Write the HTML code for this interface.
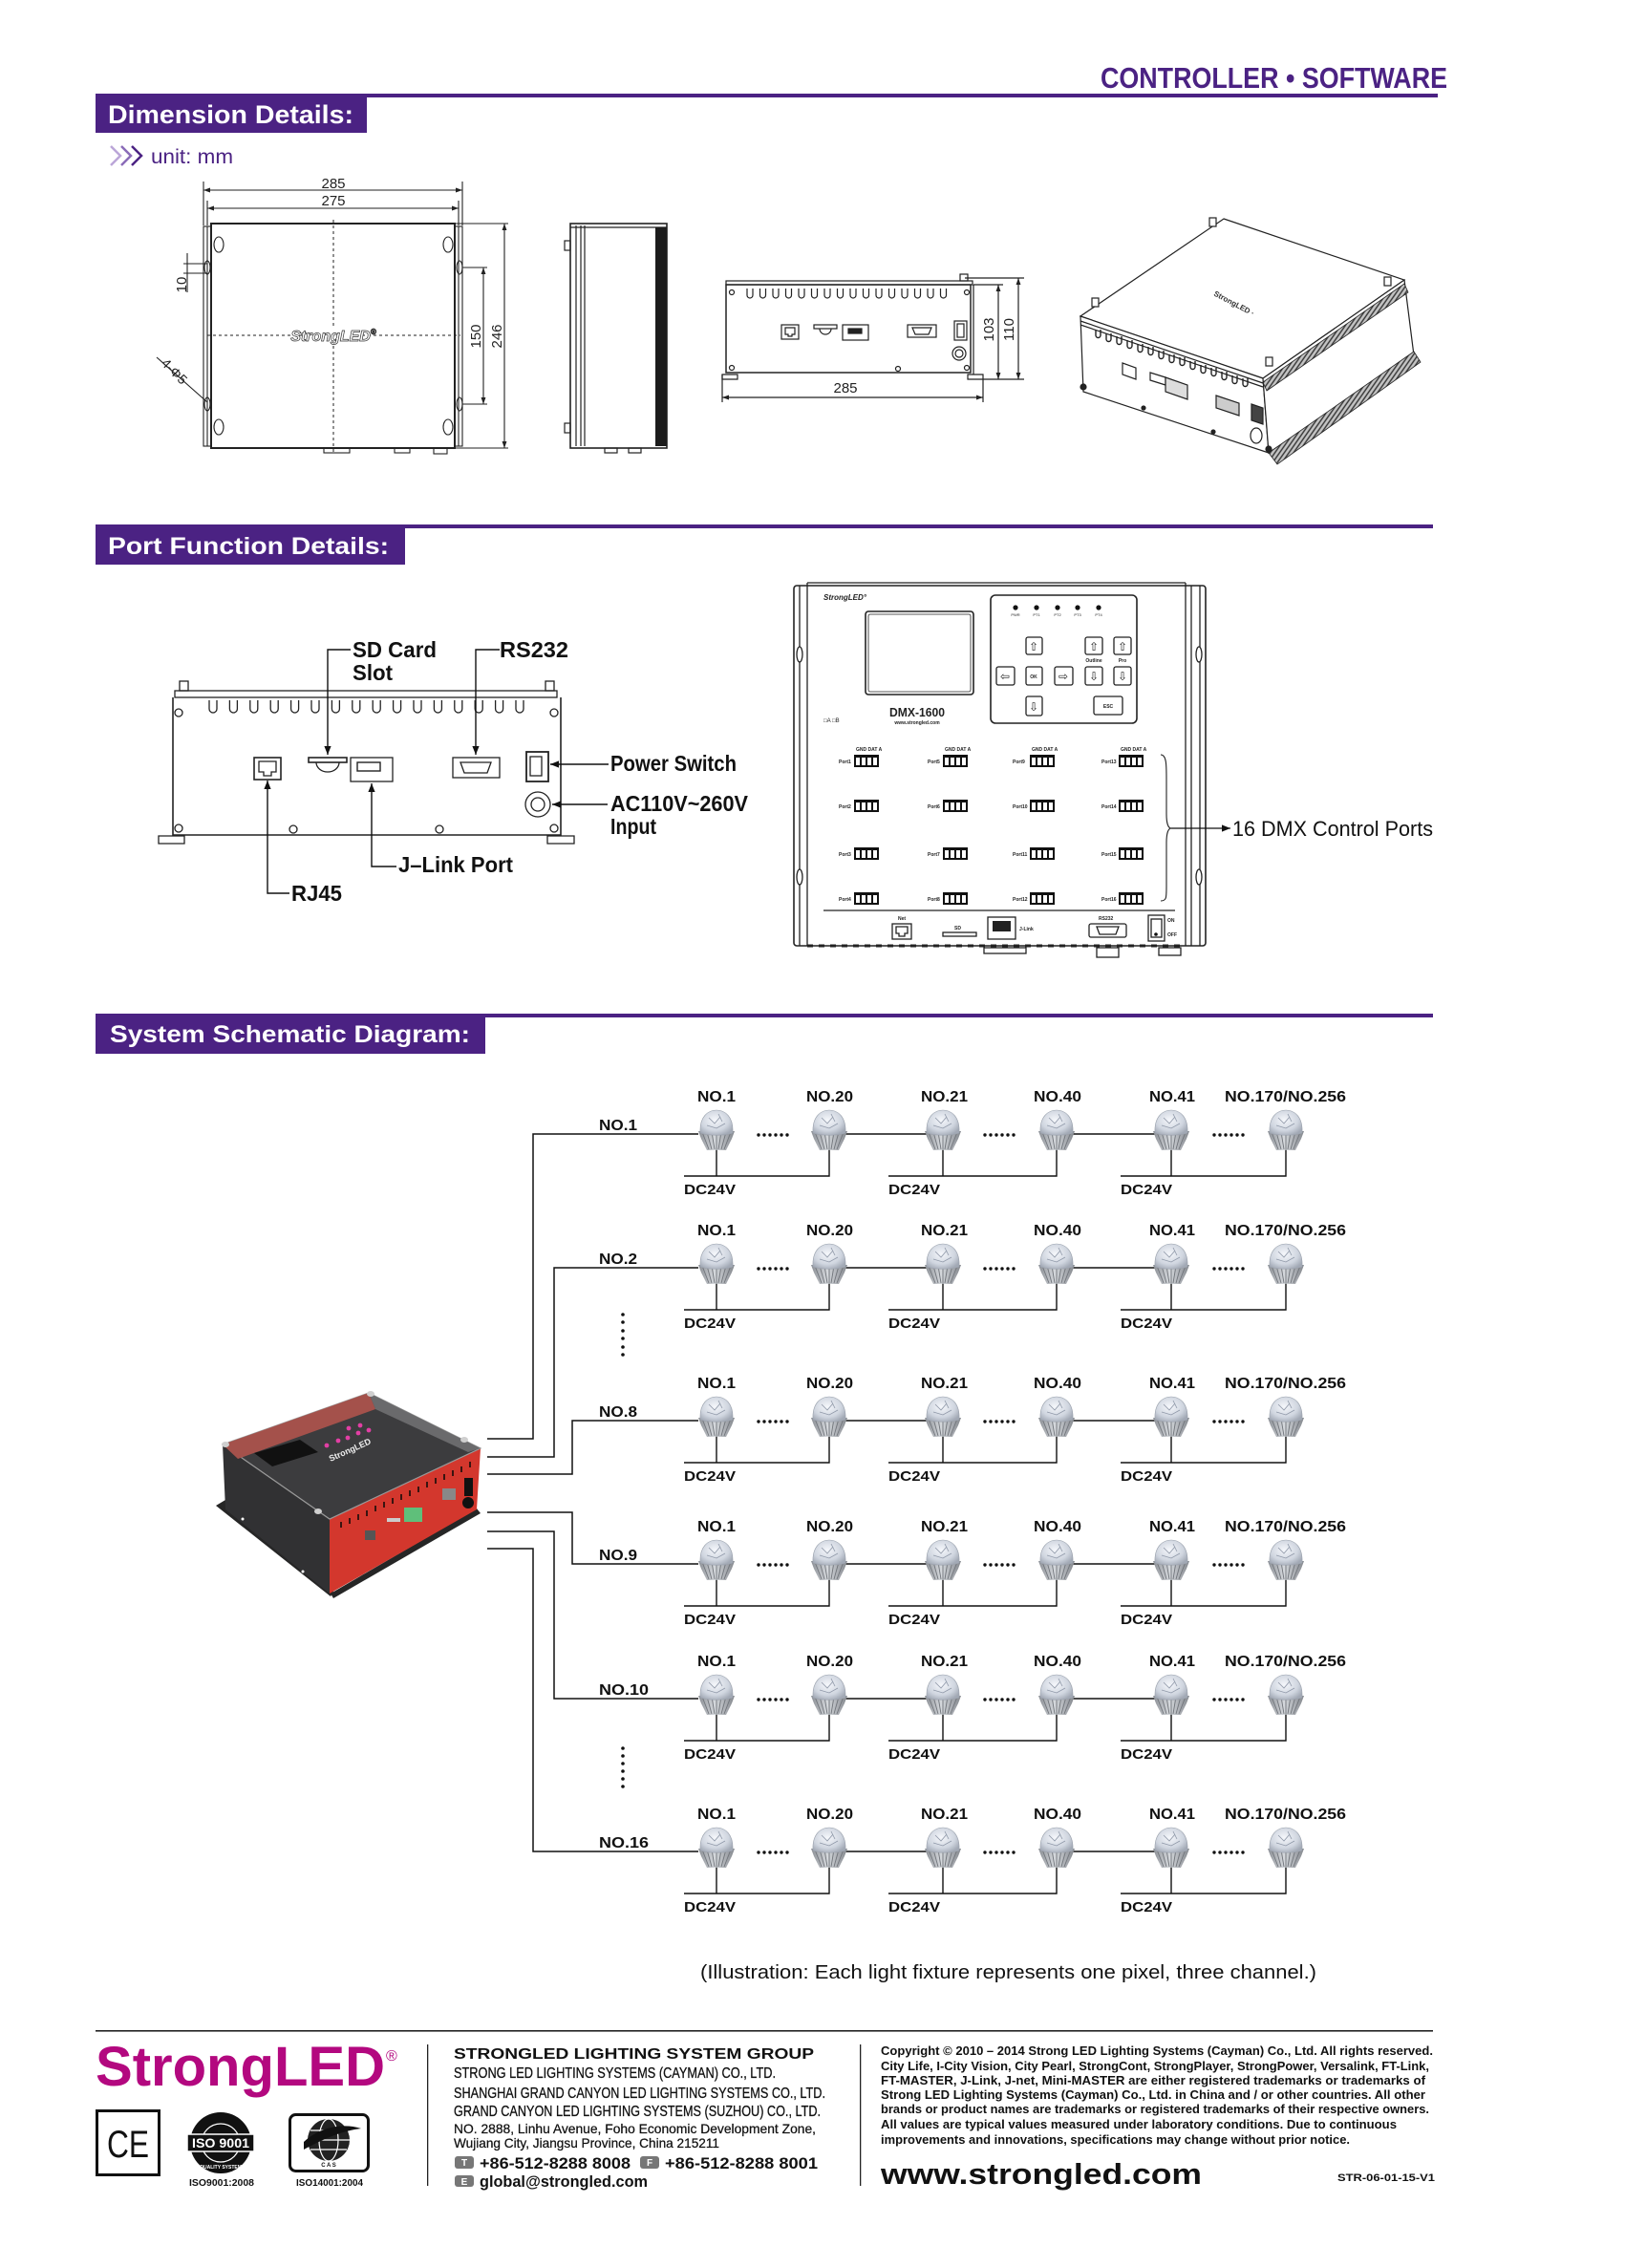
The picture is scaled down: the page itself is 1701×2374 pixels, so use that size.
<!DOCTYPE html>
<html><head><meta charset="utf-8">
<style>
html,body{margin:0;padding:0;background:#fff;}
svg{display:block;}
text{font-family:"Liberation Sans",Arial,sans-serif;}
</style></head>
<body>
<svg width="1701" height="2374" viewBox="0 0 1701 2374" xmlns="http://www.w3.org/2000/svg">
<defs>
 <marker id="a" viewBox="0 0 10 10" refX="10" refY="5" markerWidth="7" markerHeight="7" markerUnits="userSpaceOnUse" orient="auto-start-reverse"><path d="M0,1.5 L10,5 L0,8.5z" fill="#222"/></marker>
 <marker id="b" viewBox="0 0 10 10" refX="10" refY="5" markerWidth="9" markerHeight="9" markerUnits="userSpaceOnUse" orient="auto-start-reverse"><path d="M0,1 L10,5 L0,9z" fill="#111"/></marker>
 <pattern id="hatch" width="4" height="4" patternUnits="userSpaceOnUse" patternTransform="rotate(35)"><rect width="4" height="4" fill="#c4c4c4"/><line x1="1" y1="0" x2="1" y2="4" stroke="#333" stroke-width="1.4"/></pattern>
 <linearGradient id="fin" x1="0" y1="0" x2="1" y2="0"><stop offset="0" stop-color="#8a8e94"/><stop offset="0.45" stop-color="#d6d9dd"/><stop offset="1" stop-color="#83878d"/></linearGradient>
 <radialGradient id="dome" cx="0.45" cy="0.4" r="0.65"><stop offset="0" stop-color="#f5f7fb"/><stop offset="0.65" stop-color="#cfd5df"/><stop offset="1" stop-color="#a2a9b5"/></radialGradient>
 <g id="bulb">
  <path d="M-19,22 L19,22 L16,30 L10,42 L-10,42 L-16,30 Z" fill="url(#fin)"/>
  <path d="M-15,23 L-8,41 M-10,23 L-5,41 M-5,23 L-2,41 M0,23 V42 M5,23 L2,41 M10,23 L5,41 M15,23 L8,41" stroke="#71757b" stroke-width="0.9"/>
  <path d="M-17,24 C-18,7 -9,0 0,0 C9,0 18,7 17,24 C8,27 -8,27 -17,24 Z" fill="url(#dome)" stroke="#9aa1ac" stroke-width="0.6"/>
  <path d="M-8,8 L-2,14 L4,7 M-10,16 L0,19 L9,14 M2,4 L6,12" stroke="#8f98a8" stroke-width="0.8" fill="none"/>
 </g>
</defs>
<rect width="1701" height="2374" fill="#fff"/>

<!-- HEADER -->
<text x="1152" y="92" font-size="31" font-weight="bold" fill="#4b2283" textLength="363" lengthAdjust="spacingAndGlyphs">CONTROLLER • SOFTWARE</text>
<rect x="100" y="98" width="1405" height="4" fill="#4b2283"/>
<rect x="100" y="98" width="284" height="41" fill="#4b2283"/>
<text x="113" y="129" font-size="27" font-weight="bold" fill="#fff" textLength="257" lengthAdjust="spacingAndGlyphs">Dimension Details:</text>
<g fill="none" stroke-width="2.5">
 <polyline points="116,153 126,163 116,173" stroke="#bba6d8"/>
 <polyline points="127,153 137,163 127,173" stroke="#8a6bb8"/>
 <polyline points="138,153 148,163 138,173" stroke="#4b2283"/>
</g>
<text x="158" y="171" font-size="21" fill="#4b2283" textLength="86" lengthAdjust="spacingAndGlyphs">unit: mm</text>

<!-- DRAWING 1 -->
<g stroke="#222" fill="none" stroke-width="1.1">
 <line x1="213" y1="190" x2="213" y2="236"/><line x1="484" y1="190" x2="484" y2="236"/>
 <line x1="217" y1="210" x2="217" y2="236"/><line x1="480" y1="210" x2="480" y2="236"/>
 <line x1="213" y1="199" x2="484" y2="199" marker-start="url(#a)" marker-end="url(#a)"/>
 <line x1="217" y1="218" x2="480" y2="218" marker-start="url(#a)" marker-end="url(#a)"/>
 <rect x="213" y="237" width="8" height="230"/>
 <rect x="476" y="237" width="8" height="230"/>
 <line x1="217" y1="237" x2="217" y2="467"/><line x1="480" y1="237" x2="480" y2="467"/>
 <rect x="221" y="234" width="255" height="235" stroke-width="2"/>
 <ellipse cx="229" cy="256" rx="5" ry="8"/><ellipse cx="469" cy="256" rx="5" ry="8"/>
 <ellipse cx="229" cy="447" rx="5" ry="8"/><ellipse cx="469" cy="447" rx="5" ry="8"/>
 <ellipse cx="217" cy="280" rx="3" ry="7"/><ellipse cx="217" cy="423" rx="3" ry="7"/>
 <ellipse cx="481" cy="280" rx="3" ry="7"/><ellipse cx="481" cy="423" rx="3" ry="7"/>
 <rect x="339" y="469" width="27" height="5"/><rect x="413" y="469" width="16" height="5"/><rect x="454" y="469" width="14" height="6"/>
 <line x1="476" y1="234" x2="532" y2="234"/><line x1="476" y1="469" x2="532" y2="469"/>
 <line x1="528" y1="234" x2="528" y2="469" marker-start="url(#a)" marker-end="url(#a)"/>
 <line x1="484" y1="280" x2="510" y2="280"/><line x1="484" y1="423" x2="510" y2="423"/>
 <line x1="506" y1="280" x2="506" y2="423" marker-start="url(#a)" marker-end="url(#a)"/>
 <line x1="196" y1="265" x2="196" y2="306"/>
 <line x1="192" y1="276" x2="217" y2="276"/><line x1="192" y1="286" x2="217" y2="286"/>
 <line x1="164" y1="374" x2="217" y2="421"/>
 <line x1="349" y1="230" x2="349" y2="476" stroke-dasharray="3,3" stroke-width="1"/>
 <line x1="217" y1="351" x2="482" y2="351" stroke-dasharray="3,3" stroke-width="1"/>
</g>
<g font-size="15" fill="#222" text-anchor="middle">
 <text x="349" y="197">285</text><text x="349" y="215">275</text>
 <text transform="translate(503,352) rotate(-90)">150</text>
 <text transform="translate(525,352) rotate(-90)">246</text>
 <text transform="translate(195,298) rotate(-90)">10</text>
</g>
<text transform="translate(168,381) rotate(45)" font-size="14" fill="#222">4-Φ5</text>
<rect x="318" y="343" width="62" height="16" fill="#fff"/>
<text x="349" y="357" text-anchor="middle" font-size="16" font-style="italic" font-weight="bold" fill="#fff" stroke="#333" stroke-width="0.7">StrongLED<tspan font-size="8" dy="-7">®</tspan></text>

<!-- DRAWING 2 side -->
<g stroke="#222" fill="none" stroke-width="1.2">
 <rect x="597" y="234" width="101" height="235" stroke-width="1.6"/>
 <line x1="597" y1="238" x2="698" y2="238"/>
 <line x1="603" y1="236" x2="603" y2="467"/><line x1="608" y1="236" x2="608" y2="467"/><line x1="612" y1="236" x2="612" y2="467"/>
 <rect x="591" y="252" width="6" height="10"/><rect x="591" y="443" width="6" height="10"/>
 <rect x="633" y="469" width="13" height="5"/><rect x="658" y="469" width="13" height="5"/>
</g>
<rect x="686" y="238" width="12" height="229" fill="#1c1c1c"/>

<!-- DRAWING 3 front -->
<g stroke="#222" fill="none" stroke-width="1.2">
 <rect x="760" y="294" width="258" height="4"/>
 <rect x="1005" y="287" width="8" height="7"/>
 <rect x="760" y="298" width="256" height="92" stroke-width="1.5"/>
 <line x1="1019" y1="298" x2="1019" y2="392"/>
 <path d="M756,392 H772 V397 H756 Z M1013,392 H1029 V397 H1013 Z"/>
 <path d="M782,302 v7 a3,3 0 0 0 6,0 v-7 M795.5,302 v7 a3,3 0 0 0 6,0 v-7 M809,302 v7 a3,3 0 0 0 6,0 v-7 M822.5,302 v7 a3,3 0 0 0 6,0 v-7 M836,302 v7 a3,3 0 0 0 6,0 v-7 M849.5,302 v7 a3,3 0 0 0 6,0 v-7 M863,302 v7 a3,3 0 0 0 6,0 v-7 M876.5,302 v7 a3,3 0 0 0 6,0 v-7 M890,302 v7 a3,3 0 0 0 6,0 v-7 M903.5,302 v7 a3,3 0 0 0 6,0 v-7 M917,302 v7 a3,3 0 0 0 6,0 v-7 M930.5,302 v7 a3,3 0 0 0 6,0 v-7 M944,302 v7 a3,3 0 0 0 6,0 v-7 M957.5,302 v7 a3,3 0 0 0 6,0 v-7 M971,302 v7 a3,3 0 0 0 6,0 v-7 M984.5,302 v7 a3,3 0 0 0 6,0 v-7"/>
 <circle cx="766" cy="306" r="2.5"/><circle cx="1012" cy="306" r="2.5"/><circle cx="766" cy="385" r="2.5"/><circle cx="1012" cy="385" r="2.5"/><circle cx="940" cy="386" r="2.5"/>
 <rect x="818" y="340" width="18" height="15"/><path d="M822,343 h10 v7 h-3 v2 h-4 v-2 h-3z"/>
 <rect x="852" y="340" width="24" height="4"/><path d="M858,344 a6,6 0 0 0 12,0"/>
 <rect x="882" y="340" width="27" height="16"/><rect x="888" y="344" width="14" height="5" fill="#222"/>
 <rect x="950" y="340" width="30" height="13"/><path d="M955,343 h20 l-3,7 h-14z"/>
 <rect x="999" y="336" width="13" height="20"/><rect x="1002" y="339" width="7" height="14"/>
 <circle cx="1004" cy="370" r="7"/><circle cx="1004" cy="370" r="4"/>
 <line x1="1010" y1="291" x2="1072" y2="291"/><line x1="1019" y1="298" x2="1050" y2="298"/><line x1="1029" y1="397" x2="1072" y2="397"/>
 <line x1="1045" y1="298" x2="1045" y2="397" marker-start="url(#a)" marker-end="url(#a)"/>
 <line x1="1066" y1="291" x2="1066" y2="397" marker-start="url(#a)" marker-end="url(#a)"/>
 <line x1="756" y1="392" x2="756" y2="421"/><line x1="1029" y1="397" x2="1029" y2="421"/>
 <line x1="756" y1="416" x2="1029" y2="416" marker-start="url(#a)" marker-end="url(#a)"/>
</g>
<g font-size="15" fill="#222" text-anchor="middle">
 <text transform="translate(1040,345) rotate(-90)">103</text>
 <text transform="translate(1061,345) rotate(-90)">110</text>
 <text x="885" y="411">285</text>
</g>

<!-- DRAWING 4 iso -->
<g stroke="#222" fill="none" stroke-width="1.2">
 <polygon points="1281,229 1470,293 1322,396 1131,331" fill="#fff"/>
 <polygon points="1131,331 1322,396 1328,474 1134,410" fill="#fff"/>
 <polygon points="1470,293 1480,372 1328,474 1322,396" fill="#fff"/>
 <line x1="1131" y1="336" x2="1322" y2="401"/><line x1="1131" y1="340" x2="1322" y2="405"/>
 <polygon points="1470,297 1474,306 1326,409 1322,400" fill="url(#hatch)" stroke-width="0.8"/>
 <polygon points="1480,368 1487,379 1337,486 1328,474" fill="url(#hatch)" stroke-width="0.8"/>
 <path d="M1147,345 v6 a2.5,2.5 0 0 0 5,0 v-6 M1158,349 v6 a2.5,2.5 0 0 0 5,0 v-6 M1169,352 v6 a2.5,2.5 0 0 0 5,0 v-6 M1180,356 v6 a2.5,2.5 0 0 0 5,0 v-6 M1191,360 v6 a2.5,2.5 0 0 0 5,0 v-6 M1202,363 v6 a2.5,2.5 0 0 0 5,0 v-6 M1213,367 v6 a2.5,2.5 0 0 0 5,0 v-6 M1224,371 v6 a2.5,2.5 0 0 0 5,0 v-6 M1235,374 v6 a2.5,2.5 0 0 0 5,0 v-6 M1246,378 v6 a2.5,2.5 0 0 0 5,0 v-6 M1257,382 v6 a2.5,2.5 0 0 0 5,0 v-6 M1268,385 v6 a2.5,2.5 0 0 0 5,0 v-6 M1279,389 v6 a2.5,2.5 0 0 0 5,0 v-6 M1290,393 v6 a2.5,2.5 0 0 0 5,0 v-6 M1301,396 v6 a2.5,2.5 0 0 0 5,0 v-6" stroke-width="1.4"/>
 <polygon points="1175,380 1189,385 1189,397 1175,392"/>
 <polygon points="1204,390 1220,395 1220,403 1204,398"/>
 <polygon points="1220,395 1243,403 1243,418 1220,410" fill="#ddd"/>
 <polygon points="1273,414 1297,422 1297,435 1273,427" fill="#ccc"/>
 <polygon points="1310,423 1322,427 1322,444 1310,440" fill="#444"/>
 <ellipse cx="1315" cy="456" rx="6" ry="8"/>
 <circle cx="1197" cy="427" r="2" fill="#222"/><circle cx="1270" cy="452" r="2" fill="#222"/>
 <circle cx="1134" cy="405" r="3" fill="#222"/><circle cx="1328" cy="470" r="3" fill="#222"/>
 <rect x="1266" y="228" width="7" height="9" fill="#fff"/><rect x="1449" y="290" width="7" height="9" fill="#fff"/>
 <rect x="1143" y="312" width="7" height="9" fill="#fff"/><rect x="1325" y="374" width="7" height="9" fill="#fff"/>
</g>
<text transform="translate(1270,309) rotate(28)" font-size="8" font-weight="bold" fill="#333">StrongLED ·</text>

<!-- SECTION 2 -->
<rect x="100" y="549" width="1400" height="4" fill="#4b2283"/>
<rect x="100" y="549" width="324" height="42" fill="#4b2283"/>
<text x="113" y="580" font-size="25" font-weight="bold" fill="#fff" textLength="294" lengthAdjust="spacingAndGlyphs">Port Function Details:</text>

<!-- rear view -->
<g stroke="#222" fill="none" stroke-width="1.3">
 <rect x="183" y="723" width="400" height="7"/>
 <rect x="188" y="713" width="9" height="10"/><rect x="571" y="713" width="9" height="10"/>
 <path d="M181,730 V874 H587 V730" stroke-width="1.6"/>
 <path d="M166,875 H193 V883 H166 Z M573,875 H601 V883 H573 Z"/>
 <path d="M219,733 v9 a4,4 0 0 0 8,0 v-9 M240.4,733 v9 a4,4 0 0 0 8,0 v-9 M261.8,733 v9 a4,4 0 0 0 8,0 v-9 M283.2,733 v9 a4,4 0 0 0 8,0 v-9 M304.6,733 v9 a4,4 0 0 0 8,0 v-9 M326,733 v9 a4,4 0 0 0 8,0 v-9 M347.4,733 v9 a4,4 0 0 0 8,0 v-9 M368.8,733 v9 a4,4 0 0 0 8,0 v-9 M390.2,733 v9 a4,4 0 0 0 8,0 v-9 M411.6,733 v9 a4,4 0 0 0 8,0 v-9 M433,733 v9 a4,4 0 0 0 8,0 v-9 M454.4,733 v9 a4,4 0 0 0 8,0 v-9 M475.8,733 v9 a4,4 0 0 0 8,0 v-9 M497.2,733 v9 a4,4 0 0 0 8,0 v-9 M518.6,733 v9 a4,4 0 0 0 8,0 v-9 M540,733 v9 a4,4 0 0 0 8,0 v-9"/>
 <circle cx="187" cy="746" r="4"/><circle cx="580" cy="746" r="4"/><circle cx="187" cy="867" r="4"/><circle cx="580" cy="867" r="4"/><circle cx="307" cy="868" r="4"/><circle cx="460" cy="868" r="4"/>
 <rect x="266" y="793" width="28" height="23" stroke-width="1.6"/><path d="M271,797 h18 v11 h-5 v4 h-8 v-4 h-5 z"/>
 <rect x="323" y="793" width="40" height="5" stroke-width="1.6"/><path d="M331,798 a12,10 0 0 0 24,0"/>
 <rect x="367" y="793" width="44" height="25"/><rect x="374" y="798" width="24" height="9" stroke-width="1.4"/>
 <rect x="474" y="793" width="49" height="21"/><path d="M482,798 h32 l-4,11 h-24 z"/>
 <rect x="551" y="787" width="23" height="31" stroke-width="1.8"/><rect x="555" y="792" width="12" height="20"/>
 <circle cx="563" cy="842" r="13"/><circle cx="563" cy="842" r="7"/>
</g>
<g stroke="#111" fill="none" stroke-width="1.4">
 <path d="M367,680 H343 V790" marker-end="url(#b)"/>
 <path d="M523,680 H498 V790" marker-end="url(#b)"/>
 <path d="M637,800 H576" marker-end="url(#b)"/>
 <path d="M636,842 H578" marker-end="url(#b)"/>
 <path d="M415,907 H389 V820" marker-end="url(#b)"/>
 <path d="M303,935 H280 V817" marker-end="url(#b)"/>
</g>
<g font-size="23" font-weight="bold" fill="#111">
 <text x="369" y="688" textLength="88" lengthAdjust="spacingAndGlyphs">SD Card</text>
 <text x="369" y="712" textLength="42" lengthAdjust="spacingAndGlyphs">Slot</text>
 <text x="523" y="688" textLength="72" lengthAdjust="spacingAndGlyphs">RS232</text>
 <text x="639" y="807" textLength="132" lengthAdjust="spacingAndGlyphs">Power Switch</text>
 <text x="639" y="849" textLength="144" lengthAdjust="spacingAndGlyphs">AC110V~260V</text>
 <text x="639" y="873" textLength="48" lengthAdjust="spacingAndGlyphs">Input</text>
 <text x="417" y="913" textLength="120" lengthAdjust="spacingAndGlyphs">J–Link Port</text>
 <text x="305" y="943" textLength="53" lengthAdjust="spacingAndGlyphs">RJ45</text>
</g>

<!-- front panel -->
<g stroke="#222" fill="none" stroke-width="1.3">
 <rect x="831" y="613" width="431" height="377" rx="3" stroke-width="1.6"/>
 <line x1="837" y1="613" x2="837" y2="990"/><line x1="845" y1="610" x2="845" y2="990"/>
 <line x1="1241" y1="610" x2="1241" y2="990"/><line x1="1247" y1="613" x2="1247" y2="990"/><line x1="1256" y1="613" x2="1256" y2="990"/>
 <line x1="845" y1="610" x2="1241" y2="610"/>
 <ellipse cx="837" cy="685" rx="3" ry="8" fill="#fff"/><ellipse cx="837" cy="918" rx="3" ry="8" fill="#fff"/>
 <ellipse cx="1255" cy="685" rx="3" ry="8" fill="#fff"/><ellipse cx="1255" cy="918" rx="3" ry="8" fill="#fff"/>
 <rect x="906" y="640" width="113" height="87" rx="3" stroke-width="1.6"/>
 <rect x="909" y="643" width="107" height="81" rx="2" stroke-width="0.8"/>
 <rect x="1037" y="623" width="153" height="134" rx="5" stroke-width="1.6"/>
 <rect x="1074" y="667" width="17" height="18" rx="2"/><rect x="1136" y="667" width="18" height="18" rx="2"/><rect x="1166" y="667" width="18" height="18" rx="2"/>
 <rect x="1043" y="698" width="19" height="19" rx="2"/><rect x="1074" y="698" width="17" height="19" rx="2"/><rect x="1104" y="698" width="19" height="19" rx="2"/><rect x="1136" y="698" width="18" height="19" rx="2"/><rect x="1166" y="698" width="18" height="19" rx="2"/>
 <rect x="1074" y="729" width="17" height="20" rx="2"/><rect x="1145" y="729" width="30" height="19" rx="2"/>
 <line x1="862" y1="953" x2="1230" y2="953"/>
 <rect x="934" y="967" width="20" height="16"/><path d="M938,970 h12 v7 h-3 v3 h-6 v-3 h-3z"/>
 <rect x="987" y="976" width="35" height="4"/>
 <rect x="1034" y="960" width="29" height="23"/>
 <rect x="1140" y="967" width="39" height="14" rx="2"/><path d="M1148,970 h23 l-3,8 h-17z"/>
 <rect x="1202" y="958" width="17" height="27"/><rect x="1205" y="962" width="11" height="19"/>
 <rect x="1030" y="992" width="44" height="6"/><rect x="1148" y="992" width="23" height="10"/><rect x="1213" y="992" width="23" height="8"/>
 <line x1="845" y1="990" x2="1241" y2="990" stroke-dasharray="6,6" stroke-width="3"/>
 <path d="M1215,790 C1221,790 1221,800 1221,815 L1221,852 C1221,862 1223,867 1226,867 C1223,867 1221,872 1221,882 L1221,928 C1221,940 1221,943 1215,943" stroke-width="1.1"/>
</g>
<rect x="1039" y="964" width="19" height="11" fill="#222"/>
<g fill="#111">
 <circle cx="1063" cy="636" r="2.6"/><circle cx="1085" cy="636" r="2.6"/><circle cx="1107" cy="636" r="2.6"/><circle cx="1128" cy="636" r="2.6"/><circle cx="1150" cy="636" r="2.6"/>
 <circle cx="1210" cy="978" r="1.8"/>
</g>
<g font-size="4" fill="#222" text-anchor="middle"><text x="1063" y="645">PWR</text><text x="1085" y="645">PT1</text><text x="1107" y="645">PT2</text><text x="1128" y="645">PT3</text><text x="1150" y="645">PT4</text></g>
<g font-family="'DejaVu Sans',sans-serif" font-size="12" fill="#222" text-anchor="middle">
 <text x="1082" y="681">⇧</text><text x="1145" y="681">⇧</text><text x="1175" y="681">⇧</text>
 <text x="1052" y="712">⇦</text><text x="1113" y="712">⇨</text><text x="1145" y="712">⇩</text><text x="1175" y="712">⇩</text>
 <text x="1082" y="744">⇩</text>
</g>
<g font-size="5" font-weight="bold" fill="#222" text-anchor="middle">
 <text x="1082" y="710">OK</text><text x="1160" y="741">ESC</text><text x="1145" y="693">Outline</text><text x="1175" y="693">Pro</text>
</g>
<text x="862" y="628" font-size="8" font-weight="bold" font-style="italic" fill="#222">StrongLED°</text>
<text x="931" y="750" font-size="13" font-weight="bold" fill="#222" textLength="58" lengthAdjust="spacingAndGlyphs">DMX-1600</text>
<text x="960" y="758" font-size="5" font-weight="bold" fill="#222" text-anchor="middle">www.strongled.com</text>
<text x="862" y="756" font-size="6" fill="#222">□A □B</text>
<g fill="#111">
 <rect x="894" y="790" width="26" height="13"/><rect x="894" y="837" width="26" height="13"/><rect x="894" y="887" width="26" height="13"/><rect x="894" y="934" width="26" height="13"/>
 <rect x="987" y="790" width="26" height="13"/><rect x="987" y="837" width="26" height="13"/><rect x="987" y="887" width="26" height="13"/><rect x="987" y="934" width="26" height="13"/>
 <rect x="1078" y="790" width="26" height="13"/><rect x="1078" y="837" width="26" height="13"/><rect x="1078" y="887" width="26" height="13"/><rect x="1078" y="934" width="26" height="13"/>
 <rect x="1171" y="790" width="26" height="13"/><rect x="1171" y="837" width="26" height="13"/><rect x="1171" y="887" width="26" height="13"/><rect x="1171" y="934" width="26" height="13"/>
</g>
<g fill="#fff">
 <path d="M896,793h4v8h-4z M902,793h4v8h-4z M908,793h4v8h-4z M914,793h4v8h-4z M896,840h4v8h-4z M902,840h4v8h-4z M908,840h4v8h-4z M914,840h4v8h-4z M896,890h4v8h-4z M902,890h4v8h-4z M908,890h4v8h-4z M914,890h4v8h-4z M896,937h4v8h-4z M902,937h4v8h-4z M908,937h4v8h-4z M914,937h4v8h-4z"/>
 <path d="M989,793h4v8h-4z M995,793h4v8h-4z M1001,793h4v8h-4z M1007,793h4v8h-4z M989,840h4v8h-4z M995,840h4v8h-4z M1001,840h4v8h-4z M1007,840h4v8h-4z M989,890h4v8h-4z M995,890h4v8h-4z M1001,890h4v8h-4z M1007,890h4v8h-4z M989,937h4v8h-4z M995,937h4v8h-4z M1001,937h4v8h-4z M1007,937h4v8h-4z"/>
 <path d="M1080,793h4v8h-4z M1086,793h4v8h-4z M1092,793h4v8h-4z M1098,793h4v8h-4z M1080,840h4v8h-4z M1086,840h4v8h-4z M1092,840h4v8h-4z M1098,840h4v8h-4z M1080,890h4v8h-4z M1086,890h4v8h-4z M1092,890h4v8h-4z M1098,890h4v8h-4z M1080,937h4v8h-4z M1086,937h4v8h-4z M1092,937h4v8h-4z M1098,937h4v8h-4z"/>
 <path d="M1173,793h4v8h-4z M1179,793h4v8h-4z M1185,793h4v8h-4z M1191,793h4v8h-4z M1173,840h4v8h-4z M1179,840h4v8h-4z M1185,840h4v8h-4z M1191,840h4v8h-4z M1173,890h4v8h-4z M1179,890h4v8h-4z M1185,890h4v8h-4z M1191,890h4v8h-4z M1173,937h4v8h-4z M1179,937h4v8h-4z M1185,937h4v8h-4z M1191,937h4v8h-4z"/>
</g>
<g font-size="5" font-weight="bold" fill="#222">
 <text x="878" y="799">Port1</text><text x="878" y="846">Port2</text><text x="878" y="896">Port3</text><text x="878" y="943">Port4</text>
 <text x="971" y="799">Port5</text><text x="971" y="846">Port6</text><text x="971" y="896">Port7</text><text x="971" y="943">Port8</text>
 <text x="1060" y="799">Port9</text><text x="1060" y="846">Port10</text><text x="1060" y="896">Port11</text><text x="1060" y="943">Port12</text>
 <text x="1153" y="799">Port13</text><text x="1153" y="846">Port14</text><text x="1153" y="896">Port15</text><text x="1153" y="943">Port16</text>
 <text x="896" y="786">GND DAT A</text><text x="989" y="786">GND DAT A</text><text x="1080" y="786">GND DAT A</text><text x="1173" y="786">GND DAT A</text>
 <text x="940" y="963">Net</text><text x="999" y="973">SD</text><text x="1067" y="974">J-Link</text><text x="1150" y="963">RS232</text><text x="1222" y="965">ON</text><text x="1222" y="980">OFF</text>
</g>
<line x1="1226" y1="867" x2="1288" y2="867" stroke="#111" stroke-width="1.3" marker-end="url(#b)"/>
<text x="1290" y="875" font-size="22" fill="#111" textLength="210" lengthAdjust="spacingAndGlyphs">16 DMX Control Ports</text>

<!-- SECTION 3 -->
<rect x="100" y="1061" width="1400" height="4" fill="#4b2283"/>
<rect x="100" y="1061" width="408" height="42" fill="#4b2283"/>
<text x="115" y="1091" font-size="25" font-weight="bold" fill="#fff" textLength="377" lengthAdjust="spacingAndGlyphs">System Schematic Diagram:</text>

<!-- controller photo -->
<polygon points="226,1576 236,1570 352,1661 346,1671" fill="#262626"/>
<polygon points="346,1668 499,1579 503,1584 349,1673" fill="#262626"/>
<polygon points="233,1512 345,1590 345,1668 236,1580" fill="#313133"/>
<polygon points="345,1590 503,1516 499,1580 345,1668" fill="#d3372d"/>
<polygon points="233,1512 386,1458 503,1516 345,1590" fill="#3c3c3e" stroke="#9a9a9a" stroke-width="1.2"/>
<polygon points="233,1512 386,1458 393,1475 249,1527" fill="#a4514b"/>
<polygon points="386,1458 503,1516 490,1520 393,1475" fill="#6a6a6c"/>
<polygon points="266,1521 314,1507 333,1520 285,1535" fill="#111"/>
<g fill="#e23fa4"><circle cx="342" cy="1513" r="2.4"/><circle cx="354" cy="1508" r="2.4"/><circle cx="364" cy="1505" r="2.4"/><circle cx="365" cy="1495" r="2.4"/><circle cx="375" cy="1500" r="2.4"/><circle cx="377" cy="1492" r="2.4"/><circle cx="386" cy="1497" r="2.4"/></g>
<text transform="translate(346,1530) rotate(-24)" font-size="9" font-weight="bold" fill="#eee">StrongLED</text>
<g fill="#3a1410">
 <rect x="356" y="1593" width="2" height="6"/><rect x="365" y="1589" width="2" height="6"/><rect x="374" y="1585" width="2" height="6"/><rect x="383" y="1581" width="2" height="6"/><rect x="392" y="1576" width="2" height="6"/><rect x="401" y="1572" width="2" height="6"/><rect x="410" y="1568" width="2" height="6"/><rect x="419" y="1564" width="2" height="6"/><rect x="428" y="1560" width="2" height="6"/><rect x="437" y="1556" width="2" height="6"/><rect x="446" y="1551" width="2" height="6"/><rect x="455" y="1547" width="2" height="6"/><rect x="464" y="1543" width="2" height="6"/><rect x="473" y="1539" width="2" height="6"/><rect x="482" y="1535" width="2" height="6"/><rect x="491" y="1530" width="2" height="6"/>
</g>
<rect x="382" y="1602" width="11" height="10" fill="#555"/>
<rect x="405" y="1589" width="14" height="4" fill="#ccc"/>
<rect x="423" y="1578" width="19" height="15" fill="#5fbf7a"/>
<rect x="463" y="1558" width="14" height="12" fill="#888"/>
<rect x="486" y="1547" width="9" height="19" fill="#111"/>
<circle cx="490" cy="1573" r="6" fill="#111"/>
<g fill="#cfcfcf"><ellipse cx="388" cy="1459" rx="4" ry="3"/><ellipse cx="486" cy="1507" rx="4" ry="3"/><ellipse cx="333" cy="1582" rx="4" ry="3"/><ellipse cx="236" cy="1512" rx="4" ry="3"/></g>
<g fill="#fff"><circle cx="254" cy="1590" r="1.5"/><circle cx="317" cy="1645" r="1.5"/></g>

<!-- trunk lines -->
<g stroke="#111" stroke-width="1.5" fill="none">
 <path d="M510,1506 H558 V1187 H731"/>
 <path d="M510,1525 H580 V1327 H731"/>
 <path d="M510,1543 H599 V1487 H731"/>
 <path d="M510,1583 H599 V1637 H731"/>
 <path d="M510,1603 H580 V1778 H731"/>
 <path d="M510,1621 H558 V1938 H731"/>
</g>
<g font-size="16" font-weight="bold" fill="#111">
 <text x="627" y="1183" textLength="40" lengthAdjust="spacingAndGlyphs">NO.1</text>
 <text x="627" y="1323" textLength="40" lengthAdjust="spacingAndGlyphs">NO.2</text>
 <text x="627" y="1483" textLength="40" lengthAdjust="spacingAndGlyphs">NO.8</text>
 <text x="627" y="1633" textLength="40" lengthAdjust="spacingAndGlyphs">NO.9</text>
 <text x="627" y="1774" textLength="52" lengthAdjust="spacingAndGlyphs">NO.10</text>
 <text x="627" y="1934" textLength="52" lengthAdjust="spacingAndGlyphs">NO.16</text>
</g>
<g fill="#111">
 <circle cx="652" cy="1376" r="1.8"/><circle cx="652" cy="1384" r="1.8"/><circle cx="652" cy="1393" r="1.8"/><circle cx="652" cy="1401" r="1.8"/><circle cx="652" cy="1410" r="1.8"/><circle cx="652" cy="1418" r="1.8"/>
 <circle cx="652" cy="1830" r="1.8"/><circle cx="652" cy="1838" r="1.8"/><circle cx="652" cy="1846" r="1.8"/><circle cx="652" cy="1854" r="1.8"/><circle cx="652" cy="1862" r="1.8"/><circle cx="652" cy="1870" r="1.8"/>
</g>

<!-- ROW 1 -->
<g transform="translate(0,1147)">
 <g font-size="16" font-weight="bold" fill="#111">
  <text x="730" y="6" textLength="40" lengthAdjust="spacingAndGlyphs">NO.1</text><text x="844" y="6" textLength="49" lengthAdjust="spacingAndGlyphs">NO.20</text><text x="964" y="6" textLength="49" lengthAdjust="spacingAndGlyphs">NO.21</text><text x="1082" y="6" textLength="50" lengthAdjust="spacingAndGlyphs">NO.40</text><text x="1203" y="6" textLength="48" lengthAdjust="spacingAndGlyphs">NO.41</text><text x="1282" y="6" textLength="127" lengthAdjust="spacingAndGlyphs">NO.170/NO.256</text>
 </g>
 <path d="M885,40 H970 M1123,40 H1209 M750,57 V84 M716,84 H868 V57 M987,57 V84 M930,84 H1106 V57 M1226,57 V84 M1173,84 H1346 V57" stroke="#111" stroke-width="1.4" fill="none"/>
 <use href="#bulb" x="750" y="15"/><use href="#bulb" x="868" y="15"/><use href="#bulb" x="987" y="15"/><use href="#bulb" x="1106" y="15"/><use href="#bulb" x="1226" y="15"/><use href="#bulb" x="1346" y="15"/>
 <g fill="#111"><circle cx="794" cy="41" r="1.7"/><circle cx="800" cy="41" r="1.7"/><circle cx="806" cy="41" r="1.7"/><circle cx="812" cy="41" r="1.7"/><circle cx="818" cy="41" r="1.7"/><circle cx="824" cy="41" r="1.7"/><circle cx="1031" cy="41" r="1.7"/><circle cx="1037" cy="41" r="1.7"/><circle cx="1043" cy="41" r="1.7"/><circle cx="1049" cy="41" r="1.7"/><circle cx="1055" cy="41" r="1.7"/><circle cx="1061" cy="41" r="1.7"/><circle cx="1271" cy="41" r="1.7"/><circle cx="1277" cy="41" r="1.7"/><circle cx="1283" cy="41" r="1.7"/><circle cx="1289" cy="41" r="1.7"/><circle cx="1295" cy="41" r="1.7"/><circle cx="1301" cy="41" r="1.7"/></g>
 <g font-size="15" font-weight="bold" fill="#111"><text x="716" y="103" textLength="54" lengthAdjust="spacingAndGlyphs">DC24V</text><text x="930" y="103" textLength="54" lengthAdjust="spacingAndGlyphs">DC24V</text><text x="1173" y="103" textLength="54" lengthAdjust="spacingAndGlyphs">DC24V</text></g>
</g>
<!-- ROW 2 -->
<g transform="translate(0,1287)">
 <g font-size="16" font-weight="bold" fill="#111">
  <text x="730" y="6" textLength="40" lengthAdjust="spacingAndGlyphs">NO.1</text><text x="844" y="6" textLength="49" lengthAdjust="spacingAndGlyphs">NO.20</text><text x="964" y="6" textLength="49" lengthAdjust="spacingAndGlyphs">NO.21</text><text x="1082" y="6" textLength="50" lengthAdjust="spacingAndGlyphs">NO.40</text><text x="1203" y="6" textLength="48" lengthAdjust="spacingAndGlyphs">NO.41</text><text x="1282" y="6" textLength="127" lengthAdjust="spacingAndGlyphs">NO.170/NO.256</text>
 </g>
 <path d="M885,40 H970 M1123,40 H1209 M750,57 V84 M716,84 H868 V57 M987,57 V84 M930,84 H1106 V57 M1226,57 V84 M1173,84 H1346 V57" stroke="#111" stroke-width="1.4" fill="none"/>
 <use href="#bulb" x="750" y="15"/><use href="#bulb" x="868" y="15"/><use href="#bulb" x="987" y="15"/><use href="#bulb" x="1106" y="15"/><use href="#bulb" x="1226" y="15"/><use href="#bulb" x="1346" y="15"/>
 <g fill="#111"><circle cx="794" cy="41" r="1.7"/><circle cx="800" cy="41" r="1.7"/><circle cx="806" cy="41" r="1.7"/><circle cx="812" cy="41" r="1.7"/><circle cx="818" cy="41" r="1.7"/><circle cx="824" cy="41" r="1.7"/><circle cx="1031" cy="41" r="1.7"/><circle cx="1037" cy="41" r="1.7"/><circle cx="1043" cy="41" r="1.7"/><circle cx="1049" cy="41" r="1.7"/><circle cx="1055" cy="41" r="1.7"/><circle cx="1061" cy="41" r="1.7"/><circle cx="1271" cy="41" r="1.7"/><circle cx="1277" cy="41" r="1.7"/><circle cx="1283" cy="41" r="1.7"/><circle cx="1289" cy="41" r="1.7"/><circle cx="1295" cy="41" r="1.7"/><circle cx="1301" cy="41" r="1.7"/></g>
 <g font-size="15" font-weight="bold" fill="#111"><text x="716" y="103" textLength="54" lengthAdjust="spacingAndGlyphs">DC24V</text><text x="930" y="103" textLength="54" lengthAdjust="spacingAndGlyphs">DC24V</text><text x="1173" y="103" textLength="54" lengthAdjust="spacingAndGlyphs">DC24V</text></g>
</g>
<!-- ROW 3 -->
<g transform="translate(0,1447)">
 <g font-size="16" font-weight="bold" fill="#111">
  <text x="730" y="6" textLength="40" lengthAdjust="spacingAndGlyphs">NO.1</text><text x="844" y="6" textLength="49" lengthAdjust="spacingAndGlyphs">NO.20</text><text x="964" y="6" textLength="49" lengthAdjust="spacingAndGlyphs">NO.21</text><text x="1082" y="6" textLength="50" lengthAdjust="spacingAndGlyphs">NO.40</text><text x="1203" y="6" textLength="48" lengthAdjust="spacingAndGlyphs">NO.41</text><text x="1282" y="6" textLength="127" lengthAdjust="spacingAndGlyphs">NO.170/NO.256</text>
 </g>
 <path d="M885,40 H970 M1123,40 H1209 M750,57 V84 M716,84 H868 V57 M987,57 V84 M930,84 H1106 V57 M1226,57 V84 M1173,84 H1346 V57" stroke="#111" stroke-width="1.4" fill="none"/>
 <use href="#bulb" x="750" y="15"/><use href="#bulb" x="868" y="15"/><use href="#bulb" x="987" y="15"/><use href="#bulb" x="1106" y="15"/><use href="#bulb" x="1226" y="15"/><use href="#bulb" x="1346" y="15"/>
 <g fill="#111"><circle cx="794" cy="41" r="1.7"/><circle cx="800" cy="41" r="1.7"/><circle cx="806" cy="41" r="1.7"/><circle cx="812" cy="41" r="1.7"/><circle cx="818" cy="41" r="1.7"/><circle cx="824" cy="41" r="1.7"/><circle cx="1031" cy="41" r="1.7"/><circle cx="1037" cy="41" r="1.7"/><circle cx="1043" cy="41" r="1.7"/><circle cx="1049" cy="41" r="1.7"/><circle cx="1055" cy="41" r="1.7"/><circle cx="1061" cy="41" r="1.7"/><circle cx="1271" cy="41" r="1.7"/><circle cx="1277" cy="41" r="1.7"/><circle cx="1283" cy="41" r="1.7"/><circle cx="1289" cy="41" r="1.7"/><circle cx="1295" cy="41" r="1.7"/><circle cx="1301" cy="41" r="1.7"/></g>
 <g font-size="15" font-weight="bold" fill="#111"><text x="716" y="103" textLength="54" lengthAdjust="spacingAndGlyphs">DC24V</text><text x="930" y="103" textLength="54" lengthAdjust="spacingAndGlyphs">DC24V</text><text x="1173" y="103" textLength="54" lengthAdjust="spacingAndGlyphs">DC24V</text></g>
</g>
<!-- ROW 4 -->
<g transform="translate(0,1597)">
 <g font-size="16" font-weight="bold" fill="#111">
  <text x="730" y="6" textLength="40" lengthAdjust="spacingAndGlyphs">NO.1</text><text x="844" y="6" textLength="49" lengthAdjust="spacingAndGlyphs">NO.20</text><text x="964" y="6" textLength="49" lengthAdjust="spacingAndGlyphs">NO.21</text><text x="1082" y="6" textLength="50" lengthAdjust="spacingAndGlyphs">NO.40</text><text x="1203" y="6" textLength="48" lengthAdjust="spacingAndGlyphs">NO.41</text><text x="1282" y="6" textLength="127" lengthAdjust="spacingAndGlyphs">NO.170/NO.256</text>
 </g>
 <path d="M885,40 H970 M1123,40 H1209 M750,57 V84 M716,84 H868 V57 M987,57 V84 M930,84 H1106 V57 M1226,57 V84 M1173,84 H1346 V57" stroke="#111" stroke-width="1.4" fill="none"/>
 <use href="#bulb" x="750" y="15"/><use href="#bulb" x="868" y="15"/><use href="#bulb" x="987" y="15"/><use href="#bulb" x="1106" y="15"/><use href="#bulb" x="1226" y="15"/><use href="#bulb" x="1346" y="15"/>
 <g fill="#111"><circle cx="794" cy="41" r="1.7"/><circle cx="800" cy="41" r="1.7"/><circle cx="806" cy="41" r="1.7"/><circle cx="812" cy="41" r="1.7"/><circle cx="818" cy="41" r="1.7"/><circle cx="824" cy="41" r="1.7"/><circle cx="1031" cy="41" r="1.7"/><circle cx="1037" cy="41" r="1.7"/><circle cx="1043" cy="41" r="1.7"/><circle cx="1049" cy="41" r="1.7"/><circle cx="1055" cy="41" r="1.7"/><circle cx="1061" cy="41" r="1.7"/><circle cx="1271" cy="41" r="1.7"/><circle cx="1277" cy="41" r="1.7"/><circle cx="1283" cy="41" r="1.7"/><circle cx="1289" cy="41" r="1.7"/><circle cx="1295" cy="41" r="1.7"/><circle cx="1301" cy="41" r="1.7"/></g>
 <g font-size="15" font-weight="bold" fill="#111"><text x="716" y="103" textLength="54" lengthAdjust="spacingAndGlyphs">DC24V</text><text x="930" y="103" textLength="54" lengthAdjust="spacingAndGlyphs">DC24V</text><text x="1173" y="103" textLength="54" lengthAdjust="spacingAndGlyphs">DC24V</text></g>
</g>
<!-- ROW 5 -->
<g transform="translate(0,1738)">
 <g font-size="16" font-weight="bold" fill="#111">
  <text x="730" y="6" textLength="40" lengthAdjust="spacingAndGlyphs">NO.1</text><text x="844" y="6" textLength="49" lengthAdjust="spacingAndGlyphs">NO.20</text><text x="964" y="6" textLength="49" lengthAdjust="spacingAndGlyphs">NO.21</text><text x="1082" y="6" textLength="50" lengthAdjust="spacingAndGlyphs">NO.40</text><text x="1203" y="6" textLength="48" lengthAdjust="spacingAndGlyphs">NO.41</text><text x="1282" y="6" textLength="127" lengthAdjust="spacingAndGlyphs">NO.170/NO.256</text>
 </g>
 <path d="M885,40 H970 M1123,40 H1209 M750,57 V84 M716,84 H868 V57 M987,57 V84 M930,84 H1106 V57 M1226,57 V84 M1173,84 H1346 V57" stroke="#111" stroke-width="1.4" fill="none"/>
 <use href="#bulb" x="750" y="15"/><use href="#bulb" x="868" y="15"/><use href="#bulb" x="987" y="15"/><use href="#bulb" x="1106" y="15"/><use href="#bulb" x="1226" y="15"/><use href="#bulb" x="1346" y="15"/>
 <g fill="#111"><circle cx="794" cy="41" r="1.7"/><circle cx="800" cy="41" r="1.7"/><circle cx="806" cy="41" r="1.7"/><circle cx="812" cy="41" r="1.7"/><circle cx="818" cy="41" r="1.7"/><circle cx="824" cy="41" r="1.7"/><circle cx="1031" cy="41" r="1.7"/><circle cx="1037" cy="41" r="1.7"/><circle cx="1043" cy="41" r="1.7"/><circle cx="1049" cy="41" r="1.7"/><circle cx="1055" cy="41" r="1.7"/><circle cx="1061" cy="41" r="1.7"/><circle cx="1271" cy="41" r="1.7"/><circle cx="1277" cy="41" r="1.7"/><circle cx="1283" cy="41" r="1.7"/><circle cx="1289" cy="41" r="1.7"/><circle cx="1295" cy="41" r="1.7"/><circle cx="1301" cy="41" r="1.7"/></g>
 <g font-size="15" font-weight="bold" fill="#111"><text x="716" y="103" textLength="54" lengthAdjust="spacingAndGlyphs">DC24V</text><text x="930" y="103" textLength="54" lengthAdjust="spacingAndGlyphs">DC24V</text><text x="1173" y="103" textLength="54" lengthAdjust="spacingAndGlyphs">DC24V</text></g>
</g>
<!-- ROW 6 -->
<g transform="translate(0,1898)">
 <g font-size="16" font-weight="bold" fill="#111">
  <text x="730" y="6" textLength="40" lengthAdjust="spacingAndGlyphs">NO.1</text><text x="844" y="6" textLength="49" lengthAdjust="spacingAndGlyphs">NO.20</text><text x="964" y="6" textLength="49" lengthAdjust="spacingAndGlyphs">NO.21</text><text x="1082" y="6" textLength="50" lengthAdjust="spacingAndGlyphs">NO.40</text><text x="1203" y="6" textLength="48" lengthAdjust="spacingAndGlyphs">NO.41</text><text x="1282" y="6" textLength="127" lengthAdjust="spacingAndGlyphs">NO.170/NO.256</text>
 </g>
 <path d="M885,40 H970 M1123,40 H1209 M750,57 V84 M716,84 H868 V57 M987,57 V84 M930,84 H1106 V57 M1226,57 V84 M1173,84 H1346 V57" stroke="#111" stroke-width="1.4" fill="none"/>
 <use href="#bulb" x="750" y="15"/><use href="#bulb" x="868" y="15"/><use href="#bulb" x="987" y="15"/><use href="#bulb" x="1106" y="15"/><use href="#bulb" x="1226" y="15"/><use href="#bulb" x="1346" y="15"/>
 <g fill="#111"><circle cx="794" cy="41" r="1.7"/><circle cx="800" cy="41" r="1.7"/><circle cx="806" cy="41" r="1.7"/><circle cx="812" cy="41" r="1.7"/><circle cx="818" cy="41" r="1.7"/><circle cx="824" cy="41" r="1.7"/><circle cx="1031" cy="41" r="1.7"/><circle cx="1037" cy="41" r="1.7"/><circle cx="1043" cy="41" r="1.7"/><circle cx="1049" cy="41" r="1.7"/><circle cx="1055" cy="41" r="1.7"/><circle cx="1061" cy="41" r="1.7"/><circle cx="1271" cy="41" r="1.7"/><circle cx="1277" cy="41" r="1.7"/><circle cx="1283" cy="41" r="1.7"/><circle cx="1289" cy="41" r="1.7"/><circle cx="1295" cy="41" r="1.7"/><circle cx="1301" cy="41" r="1.7"/></g>
 <g font-size="15" font-weight="bold" fill="#111"><text x="716" y="103" textLength="54" lengthAdjust="spacingAndGlyphs">DC24V</text><text x="930" y="103" textLength="54" lengthAdjust="spacingAndGlyphs">DC24V</text><text x="1173" y="103" textLength="54" lengthAdjust="spacingAndGlyphs">DC24V</text></g>
</g>

<!-- caption -->
<text x="733" y="2071" font-size="20" fill="#111" textLength="645" lengthAdjust="spacingAndGlyphs">(Illustration: Each light fixture represents one pixel,  three channel.)</text>

<!-- FOOTER -->
<rect x="100" y="2125" width="1400" height="1.6" fill="#222"/>
<text x="100" y="2183" font-size="58" font-weight="bold" fill="#b3087f" textLength="303" lengthAdjust="spacingAndGlyphs">StrongLED</text>
<text x="404" y="2157" font-size="16" fill="#b3087f">®</text>
<rect x="101.5" y="2209.5" width="65" height="67" fill="none" stroke="#111" stroke-width="3"/>
<text x="134" y="2258" text-anchor="middle" font-size="40" fill="#111" textLength="44" lengthAdjust="spacingAndGlyphs">CE</text>
<circle cx="231" cy="2243" r="32" fill="#111"/>
<circle cx="231" cy="2243" r="20" fill="none" stroke="#fff" stroke-width="1.2"/>
<rect x="196" y="2234" width="70" height="18" fill="#111" stroke="#fff" stroke-width="1.5"/>
<text x="231" y="2248" text-anchor="middle" font-family="'Liberation Serif',serif" font-size="14" font-weight="bold" fill="#fff" textLength="60" lengthAdjust="spacingAndGlyphs">ISO 9001</text>
<text x="231" y="2270" text-anchor="middle" font-size="5" font-weight="bold" fill="#fff">QUALITY SYSTEM</text>
<rect x="303.5" y="2213.5" width="82" height="59" rx="6" fill="none" stroke="#111" stroke-width="3"/>
<circle cx="344" cy="2240" r="22" fill="#222"/>
<g stroke="#fff" stroke-width="1.2" fill="none"><ellipse cx="344" cy="2240" rx="10" ry="22"/><line x1="322" y1="2240" x2="366" y2="2240"/><line x1="325" y1="2230" x2="363" y2="2230"/><line x1="325" y1="2250" x2="363" y2="2250"/></g>
<path d="M318,2242 C335,2226 360,2222 378,2228 C360,2230 340,2238 318,2250 Z" fill="#111"/>
<text x="344" y="2268" text-anchor="middle" font-size="6" font-weight="bold" fill="#111">C A S</text>
<g font-size="10" font-weight="bold" fill="#111">
 <text x="198" y="2288" textLength="68" lengthAdjust="spacingAndGlyphs">ISO9001:2008</text>
 <text x="310" y="2288" textLength="70" lengthAdjust="spacingAndGlyphs">ISO14001:2004</text>
</g>
<rect x="447" y="2140" width="1.3" height="148" fill="#222"/>
<rect x="900" y="2140" width="1.3" height="148" fill="#222"/>
<g fill="#111">
 <text x="475" y="2155" font-size="16" font-weight="bold" textLength="377" lengthAdjust="spacingAndGlyphs">STRONGLED LIGHTING SYSTEM GROUP</text>
 <text x="475" y="2175" font-size="16" textLength="337" lengthAdjust="spacingAndGlyphs" stroke="#111" stroke-width="0.3">STRONG LED LIGHTING SYSTEMS (CAYMAN) CO., LTD.</text>
 <text x="475" y="2196" font-size="16" textLength="389" lengthAdjust="spacingAndGlyphs" stroke="#111" stroke-width="0.3">SHANGHAI GRAND CANYON LED LIGHTING SYSTEMS CO., LTD.</text>
 <text x="475" y="2215" font-size="16" textLength="384" lengthAdjust="spacingAndGlyphs" stroke="#111" stroke-width="0.3">GRAND CANYON LED LIGHTING SYSTEMS (SUZHOU) CO., LTD.</text>
 <text x="475" y="2233" font-size="14" textLength="379" lengthAdjust="spacingAndGlyphs" stroke="#111" stroke-width="0.25">NO. 2888, Linhu Avenue, Foho Economic Development Zone,</text>
 <text x="475" y="2248" font-size="14" textLength="278" lengthAdjust="spacingAndGlyphs" stroke="#111" stroke-width="0.25">Wujiang City, Jiangsu Province, China 215211</text>
 <text x="502" y="2270" font-size="17" font-weight="bold" textLength="158" lengthAdjust="spacingAndGlyphs">+86-512-8288 8008</text>
 <text x="696" y="2270" font-size="17" font-weight="bold" textLength="160" lengthAdjust="spacingAndGlyphs">+86-512-8288 8001</text>
 <text x="502" y="2289" font-size="17" font-weight="bold" textLength="176" lengthAdjust="spacingAndGlyphs">global@strongled.com</text>
</g>
<g fill="#777"><rect x="476" y="2257" width="20" height="13" rx="3"/><rect x="670" y="2257" width="20" height="13" rx="3"/><rect x="476" y="2277" width="20" height="12" rx="3"/></g>
<g fill="#fff" font-size="10" font-weight="bold" text-anchor="middle"><text x="486" y="2267">T</text><text x="680" y="2267">F</text><text x="486" y="2287">E</text></g>
<g fill="#111" font-size="13" font-weight="bold">
 <text x="922" y="2151" textLength="578" lengthAdjust="spacingAndGlyphs">Copyright © 2010 – 2014 Strong LED Lighting Systems (Cayman) Co., Ltd. All rights reserved.</text>
 <text x="922" y="2167" textLength="574" lengthAdjust="spacingAndGlyphs">City Life, I-City Vision, City Pearl, StrongCont, StrongPlayer, StrongPower, Versalink, FT-Link,</text>
 <text x="922" y="2182" textLength="570" lengthAdjust="spacingAndGlyphs">FT-MASTER, J-Link, J-net, Mini-MASTER are either registered trademarks or trademarks of</text>
 <text x="922" y="2197" textLength="570" lengthAdjust="spacingAndGlyphs">Strong LED Lighting Systems (Cayman) Co., Ltd. in China and / or other countries. All other</text>
 <text x="922" y="2212" textLength="574" lengthAdjust="spacingAndGlyphs">brands or product names are trademarks or registered trademarks of their respective owners.</text>
 <text x="922" y="2228" textLength="540" lengthAdjust="spacingAndGlyphs">All values are typical values measured under laboratory conditions. Due to continuous</text>
 <text x="922" y="2244" textLength="491" lengthAdjust="spacingAndGlyphs">improvements and innovations, specifications may change without prior notice.</text>
</g>
<text x="922" y="2286" font-size="31" font-weight="bold" fill="#111" textLength="336" lengthAdjust="spacingAndGlyphs">www.strongled.com</text>
<text x="1400" y="2283" font-size="11" font-weight="bold" fill="#111" textLength="102" lengthAdjust="spacingAndGlyphs">STR-06-01-15-V1</text>
</svg>
</body></html>
